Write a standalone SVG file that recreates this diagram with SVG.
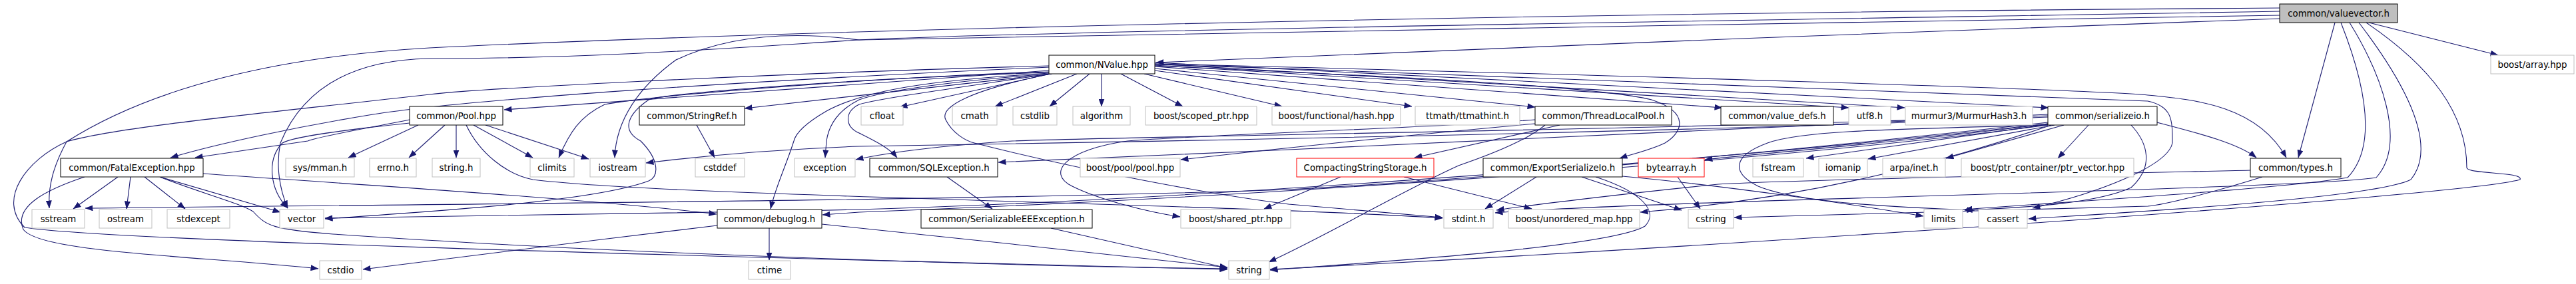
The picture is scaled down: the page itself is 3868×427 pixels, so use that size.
<svg xmlns="http://www.w3.org/2000/svg" width="3868" height="427" viewBox="0 0 3868 427">
<style>
rect{fill:#fff;stroke:#000;stroke-width:1}
.g rect{stroke:#bfbfbf}
.r rect{stroke:#ff0000}
.root rect{fill:#bfbfbf}
text{font-family:"DejaVu Sans","Liberation Sans",sans-serif;font-size:13.33px;text-anchor:middle;fill:#000}
#edges path{fill:none;stroke:#191970;stroke-width:1.1;marker-end:url(#a)}
</style>
<defs>
<marker id="a" markerWidth="12" markerHeight="9" refX="11.5" refY="4.5" orient="auto" markerUnits="userSpaceOnUse"><path d="M0,0 L12,4.5 L0,9 Z" fill="#191970"/></marker>
</defs>
<rect x="0" y="0" width="3868" height="427" style="fill:#fff;stroke:none"/>
<g id="edges">
<path d="M3423,28 C3000,40 2100,80 1736,94"/>
<path d="M3557,34 L3751,83"/>
<path d="M3506,34 L3451,237"/>
<path d="M3515,34 C3545,110 3575,215 3525,267 C3420,285 3060,306 2950,315"/>
<path d="M3528,34 C3575,110 3615,215 3568,267 C3450,285 2500,300 2245,320"/>
<path d="M3542,34 C3600,110 3665,215 3620,270 C3560,300 3150,322 3046,329"/>
<path d="M3553,34 C3650,100 3704,170 3704,252 C3704,262 3790,258 3784,270 C3700,295 2600,370 1907,405"/>
<path d="M3423,12 C2500,18 1300,40 645,72 C420,85 230,130 100,213 C80,250 72,280 74,313"/>
<path d="M3423,17 C2800,28 1600,45 1290,60 C1100,72 900,88 645,88 C520,90 452,140 421,215 C414,250 420,285 432,313"/>
<path d="M3423,23 C2800,35 1500,52 1290,60 C1200,48 1100,50 1015,90 C960,130 925,180 923,237"/>
<path d="M1577,111 L1351,161"/>
<path d="M1617,111 L1494,160"/>
<path d="M1636,111 L1576,160"/>
<path d="M1654,111 L1654,160"/>
<path d="M1683,111 L1776,160"/>
<path d="M1718,111 L1925,160"/>
<path d="M1734,106 L2120,160"/>
<path d="M1734,103 L2305,161"/>
<path d="M1734,100 L2586,162"/>
<path d="M1734,98 L2776,162"/>
<path d="M1734,96 L2860,162"/>
<path d="M1734,94 L3076,162"/>
<path d="M1734,96 C2400,112 3150,135 3225,143 C3300,150 3390,160 3433,237"/>
<path d="M1734,97 C2400,118 3150,145 3225,152 C3262,160 3262,180 3262,215 C3255,250 3150,290 3052,313"/>
<path d="M1575,106 L757,165"/>
<path d="M1580,111 L1118,163"/>
<path d="M1575,101 C1100,122 700,150 560,172 C450,190 330,215 256,237"/>
<path d="M1575,99 C1100,112 700,135 645,142 C400,170 180,190 100,213 C40,240 -5,300 37,342 C150,360 900,382 1843,405"/>
<path d="M1576,108 C1400,112 1000,140 908,157 C870,175 855,200 839,237"/>
<path d="M1576,109 C1300,117 1000,140 974,150 C945,170 930,195 962,212 C990,240 990,265 974,272 C900,300 700,315 488,329"/>
<path d="M1577,110 C1400,120 1300,135 1241,167 C1210,185 1195,200 1192,212 C1180,250 1165,280 1157,314"/>
<path d="M1578,111 C1450,120 1330,135 1290,150 C1260,165 1245,185 1241,212 L1239,237"/>
<path d="M1578,111 C1450,130 1320,148 1290,157 C1268,168 1268,190 1290,200 C1310,210 1335,222 1347,237"/>
<path d="M1734,99 C2100,115 2400,130 2480,150 C2540,170 2525,200 2500,215 C2480,225 2450,232 2432,238"/>
<path d="M1578,111 C1460,135 1410,160 1420,180 C1430,200 1450,212 1463,215 C1600,250 1800,290 1935,307 C2020,315 2100,322 2166,327"/>
<path d="M628,188 L523,237"/>
<path d="M668,188 L614,237"/>
<path d="M685,188 L685,237"/>
<path d="M711,188 L800,237"/>
<path d="M729,188 L884,239"/>
<path d="M700,188 C720,230 760,262 800,270 C1000,295 1800,305 2166,328"/>
<path d="M615,185 C520,195 440,205 424,215 C400,240 405,285 432,313"/>
<path d="M615,180 C540,195 480,205 462,212 L293,237"/>
<path d="M177,266 L110,314"/>
<path d="M196,266 L190,314"/>
<path d="M217,266 L278,314"/>
<path d="M240,266 L421,319"/>
<path d="M305,261 C500,275 900,300 1076,322"/>
<path d="M240,266 C300,290 360,305 380,318 C400,340 410,345 500,352 C900,380 1500,400 1843,404"/>
<path d="M127,266 C70,285 20,310 35,345 C60,380 300,385 478,404"/>
<path d="M1155,343 L1155,391"/>
<path d="M1077,339 C900,360 700,385 545,405"/>
<path d="M1234,337 C1400,355 1700,385 1843,402"/>
<path d="M1422,266 L1490,314"/>
<path d="M1578,343 L1843,403"/>
<path d="M1046,188 L1073,237"/>
<path d="M2342,188 L2124,237"/>
<path d="M2305,186 C2150,200 1950,220 1773,240"/>
<path d="M2305,180 C2100,195 1850,200 1693,212 C1600,225 1570,260 1610,280 C1650,300 1720,318 1772,326"/>
<path d="M2320,188 C2300,205 2260,225 2190,249 C2100,290 2000,350 1905,394"/>
<path d="M2108,266 L2300,314"/>
<path d="M2013,266 L1898,314"/>
<path d="M2307,266 L2230,314"/>
<path d="M2375,266 L2525,316"/>
<path d="M2396,266 C2470,290 2490,320 2470,340 C2420,370 2100,392 1907,406"/>
<path d="M2436,265 C2600,280 2800,310 2888,325"/>
<path d="M2519,266 L2553,314"/>
<path d="M3076,187 L2712,238"/>
<path d="M3085,188 L2805,239"/>
<path d="M3099,188 L2922,238"/>
<path d="M3136,188 L3090,238"/>
<path d="M3200,188 C3225,215 3235,250 3200,282 C3150,305 3050,312 2950,316"/>
<path d="M3075,184 C2800,215 2300,265 1935,285 C1500,300 900,305 128,313"/>
<path d="M3075,186 C2600,240 1800,300 1290,315 C1000,322 700,325 488,328"/>
<path d="M3075,176 C2500,200 1600,215 1290,220 C1150,225 1050,235 970,245"/>
<path d="M3075,174 C2500,195 1700,205 1520,212 C1400,220 1330,230 1285,240"/>
<path d="M3075,172 C2600,195 2100,215 1935,225 C1700,235 1580,240 1499,244"/>
<path d="M3075,188 C2600,250 1800,300 1290,319 L1235,323"/>
<path d="M3075,186 C2900,210 2650,230 2560,240"/>
<path d="M3239,184 C3300,200 3360,215 3388,237"/>
<path d="M3075,188 C2800,195 2700,198 2654,215 C2600,235 2600,260 2640,280 C2700,305 2850,312 2965,316"/>
<path d="M3080,188 C2900,250 2700,300 2463,319"/>
<path d="M3379,256 C3100,262 2700,270 2580,277 C2450,290 2300,308 2247,316"/>
<path d="M3397,266 C3320,290 3250,308 3225,310 C3000,318 2800,322 2604,327"/>
</g>
<g id="n_valuevector" class="root"><rect x="3423" y="6" width="177" height="28"/><text x="3511.5" y="25">common/valuevector.h</text></g>
<g id="n_array" class="g"><rect x="3740" y="83" width="125" height="28"/><text x="3802.5" y="102">boost/array.hpp</text></g>
<g id="n_nvalue"><rect x="1575" y="83" width="159" height="28"/><text x="1654.5" y="102">common/NValue.hpp</text></g>
<g id="n_pool"><rect x="615" y="160" width="140" height="28"/><text x="685" y="179">common/Pool.hpp</text></g>
<g id="n_stringref"><rect x="960" y="160" width="158" height="28"/><text x="1039" y="179">common/StringRef.h</text></g>
<g id="n_cfloat" class="g"><rect x="1293" y="160" width="63" height="28"/><text x="1324.5" y="179">cfloat</text></g>
<g id="n_cmath" class="g"><rect x="1430" y="160" width="67" height="28"/><text x="1463.5" y="179">cmath</text></g>
<g id="n_cstdlib" class="g"><rect x="1521" y="160" width="66" height="28"/><text x="1554" y="179">cstdlib</text></g>
<g id="n_algorithm" class="g"><rect x="1611" y="160" width="86" height="28"/><text x="1654" y="179">algorithm</text></g>
<g id="n_scoped" class="g"><rect x="1720" y="160" width="167" height="28"/><text x="1803.5" y="179">boost/scoped_ptr.hpp</text></g>
<g id="n_fhash" class="g"><rect x="1910" y="160" width="193" height="28"/><text x="2006.5" y="179">boost/functional/hash.hpp</text></g>
<g id="n_ttmath" class="g"><rect x="2125" y="160" width="157" height="28"/><text x="2203.5" y="179">ttmath/ttmathint.h</text></g>
<g id="n_tlp"><rect x="2305" y="160" width="205" height="28"/><text x="2407.5" y="179">common/ThreadLocalPool.h</text></g>
<g id="n_valuedefs"><rect x="2584" y="160" width="169" height="28"/><text x="2668.5" y="179">common/value_defs.h</text></g>
<g id="n_utf8" class="g"><rect x="2776" y="160" width="63" height="28"/><text x="2807.5" y="179">utf8.h</text></g>
<g id="n_murmur" class="g"><rect x="2861" y="160" width="191" height="28"/><text x="2956.5" y="179">murmur3/MurmurHash3.h</text></g>
<g id="n_serializeio"><rect x="3075" y="160" width="164" height="28"/><text x="3157" y="179">common/serializeio.h</text></g>
<g id="n_fatal"><rect x="91" y="238" width="214" height="28"/><text x="198" y="257">common/FatalException.hpp</text></g>
<g id="n_mman" class="g"><rect x="429" y="238" width="103" height="28"/><text x="480.5" y="257">sys/mman.h</text></g>
<g id="n_errno" class="g"><rect x="555" y="238" width="70" height="28"/><text x="590" y="257">errno.h</text></g>
<g id="n_stringh" class="g"><rect x="649" y="238" width="72" height="28"/><text x="685" y="257">string.h</text></g>
<g id="n_climits" class="g"><rect x="796" y="238" width="66" height="28"/><text x="829" y="257">climits</text></g>
<g id="n_iostream" class="g"><rect x="886" y="238" width="83" height="28"/><text x="927.5" y="257">iostream</text></g>
<g id="n_cstddef" class="g"><rect x="1044" y="238" width="74" height="28"/><text x="1081" y="257">cstddef</text></g>
<g id="n_exception" class="g"><rect x="1193" y="238" width="91" height="28"/><text x="1238.5" y="257">exception</text></g>
<g id="n_sqlexc"><rect x="1306" y="238" width="192" height="28"/><text x="1402" y="257">common/SQLException.h</text></g>
<g id="n_bpool" class="g"><rect x="1622" y="238" width="150" height="28"/><text x="1697" y="257">boost/pool/pool.hpp</text></g>
<g id="n_css" class="r"><rect x="1947" y="238" width="206" height="28"/><text x="2050" y="257">CompactingStringStorage.h</text></g>
<g id="n_esio"><rect x="2227" y="238" width="209" height="28"/><text x="2331.5" y="257">common/ExportSerializeIo.h</text></g>
<g id="n_bytearray" class="r"><rect x="2460" y="238" width="99" height="28"/><text x="2509.5" y="257">bytearray.h</text></g>
<g id="n_fstream" class="g"><rect x="2632" y="238" width="76" height="28"/><text x="2670" y="257">fstream</text></g>
<g id="n_iomanip" class="g"><rect x="2731" y="238" width="73" height="28"/><text x="2767.5" y="257">iomanip</text></g>
<g id="n_arpa" class="g"><rect x="2827" y="238" width="94" height="28"/><text x="2874" y="257">arpa/inet.h</text></g>
<g id="n_ptrvec" class="g"><rect x="2945" y="238" width="259" height="28"/><text x="3074.5" y="257">boost/ptr_container/ptr_vector.hpp</text></g>
<g id="n_types"><rect x="3379" y="238" width="136" height="28"/><text x="3447" y="257">common/types.h</text></g>
<g id="n_sstream" class="g"><rect x="48" y="315" width="79" height="28"/><text x="87.5" y="334">sstream</text></g>
<g id="n_ostream" class="g"><rect x="149" y="315" width="79" height="28"/><text x="188.5" y="334">ostream</text></g>
<g id="n_stdexcept" class="g"><rect x="251" y="315" width="94" height="28"/><text x="298" y="334">stdexcept</text></g>
<g id="n_vector" class="g"><rect x="420" y="315" width="66" height="28"/><text x="453" y="334">vector</text></g>
<g id="n_debuglog"><rect x="1077" y="315" width="157" height="28"/><text x="1155.5" y="334">common/debuglog.h</text></g>
<g id="n_seree"><rect x="1383" y="315" width="257" height="28"/><text x="1511.5" y="334">common/SerializableEEException.h</text></g>
<g id="n_shared" class="g"><rect x="1773" y="315" width="165" height="28"/><text x="1855.5" y="334">boost/shared_ptr.hpp</text></g>
<g id="n_stdint" class="g"><rect x="2168" y="315" width="74" height="28"/><text x="2205" y="334">stdint.h</text></g>
<g id="n_umap" class="g"><rect x="2265" y="315" width="197" height="28"/><text x="2363.5" y="334">boost/unordered_map.hpp</text></g>
<g id="n_cstring" class="g"><rect x="2535" y="315" width="68" height="28"/><text x="2569" y="334">cstring</text></g>
<g id="n_limits" class="g"><rect x="2889" y="315" width="58" height="28"/><text x="2918" y="334">limits</text></g>
<g id="n_cassert" class="g"><rect x="2971" y="315" width="73" height="28"/><text x="3007.5" y="334">cassert</text></g>
<g id="n_cstdio" class="g"><rect x="480" y="392" width="63" height="28"/><text x="511.5" y="411">cstdio</text></g>
<g id="n_ctime" class="g"><rect x="1124" y="392" width="63" height="28"/><text x="1155.5" y="411">ctime</text></g>
<g id="n_string" class="g"><rect x="1845" y="392" width="61" height="28"/><text x="1875.5" y="411">string</text></g>
</svg>
